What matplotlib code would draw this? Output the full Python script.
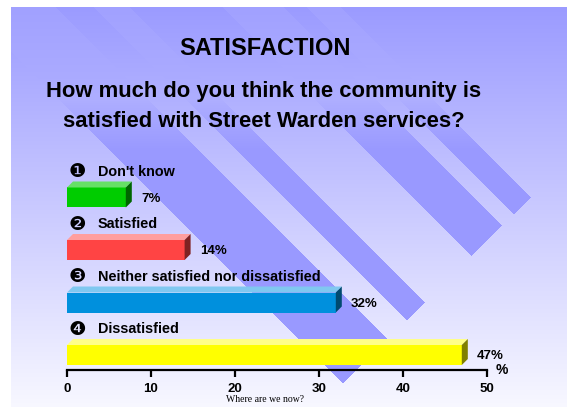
import numpy as np
import matplotlib
matplotlib.use("Agg")
import matplotlib.pyplot as plt
from matplotlib.patches import Polygon

plt.rcParams['font.family'] = ['Liberation Sans', 'DejaVu Sans']

# data
categories = ["Don't know", "Satisfied", "Neither satisfied nor dissatisfied", "Dissatisfied"]
markers = ["\u2776", "\u2777", "\u2778", "\u2779"]
values = [7, 14, 32, 47]
value_labels = ["7%", "14%", "32%", "47%"]
xticks = [0, 10, 20, 30, 40, 50]

front_colors = ["#00cc00", "#ff4444", "#0090dd", "#ffff00"]
top_colors = ["#66e066", "#ff9e9e", "#80c8f0", "#ffff88"]
side_colors = ["#006600", "#802222", "#004a70", "#808000"]

W, H = 567, 407
fig = plt.figure(figsize=(W / 100, H / 100), dpi=100)

# slide background: vertical gradient + diagonal stripes
yy, xx = np.mgrid[0:H, 0:W].astype(float)
t = np.clip((yy - 7) / (H - 7), 0, 1)
base = 155 + t * 93
band_val = np.interp(yy, [7, 100, 150, 407], [161, 174, 153, 153])
d = xx - yy
s = xx + yy
band = np.zeros_like(xx, dtype=bool)
for lo, hi, end in [(300, 333, 727), (216, 276, 726), (87, 122, 726), (-40, 48, 725)]:
    band |= (d >= lo) & (d <= hi) & (s <= end)
g = np.where(band, band_val, base)
img = np.stack([g, g, np.full_like(g, 255)], -1) / 255
img[:7, :] = 1
img[:, :11] = 1
bg = fig.add_axes([0, 0, 1, 1])
bg.imshow(img, aspect='auto', interpolation='nearest')
bg.axis('off')

# chart area
ax = fig.add_axes([67 / W, (H - 370) / H, 420 / W, 210 / H])
ax.patch.set_alpha(0)
ax.set_xlim(0, 50)
ax.set_ylim(3 + 15 / 52.5, -37.5 / 52.5)

y = np.arange(len(values))
h = 20 / 52.5
dx = 6 / 8.4
dy = 6 / 52.5
ax.barh(y, values, height=h, color=front_colors, zorder=3)
for yi, v, tc, sc in zip(y, values, top_colors, side_colors):
    top = [(0, yi - h / 2), (v, yi - h / 2), (v + dx, yi - h / 2 - dy), (dx, yi - h / 2 - dy)]
    side = [(v, yi - h / 2), (v + dx, yi - h / 2 - dy), (v + dx, yi + h / 2 - dy), (v, yi + h / 2)]
    ax.add_patch(Polygon(top, closed=True, facecolor=tc, edgecolor='none', zorder=3))
    ax.add_patch(Polygon(side, closed=True, facecolor=sc, edgecolor='none', zorder=3))

for yi, v, lab, cat, mk in zip(y, values, value_labels, categories, markers):
    ax.text(v + 1.8, yi + 0.02, lab, fontsize=9.5, fontweight='bold', va='center', ha='left')
    ax.text(1.2, yi - 0.486, mk, fontsize=14, va='center', ha='center',
            family=['DejaVu Sans'])
    ax.text(3.7, yi - 0.486, cat, fontsize=10.4, fontweight='bold', va='center', ha='left')

for sp in ['top', 'left', 'right']:
    ax.spines[sp].set_visible(False)
ax.spines['bottom'].set_linewidth(1.6)
ax.set_yticks([])
ax.set_xticks(xticks)
ax.tick_params(axis='x', direction='out', length=5, width=1.6, labelsize=9.5, pad=4)
for tl in ax.get_xticklabels():
    tl.set_fontweight('bold')
ax.text(1.036, 0, '%', transform=ax.transAxes, fontsize=10, fontweight='bold',
        va='center', ha='center')

# titles
fig.text(265 / W, 1 - 55 / H, 'SATISFACTION', fontsize=17, fontweight='bold',
         ha='center', va='baseline')
fig.text(264 / W, 1 - 97 / H, 'How much do you think the community is', fontsize=15.8,
         fontweight='bold', ha='center', va='baseline')
fig.text(264 / W, 1 - 127 / H, 'satisfied with Street Warden services?', fontsize=15.8,
         fontweight='bold', ha='center', va='baseline')
fig.text(265 / W, 1 - 400 / H, 'Where are we now?', fontsize=7,
         family=['Liberation Serif'], ha='center', va='center')

fig.savefig('out.png', dpi=100)
